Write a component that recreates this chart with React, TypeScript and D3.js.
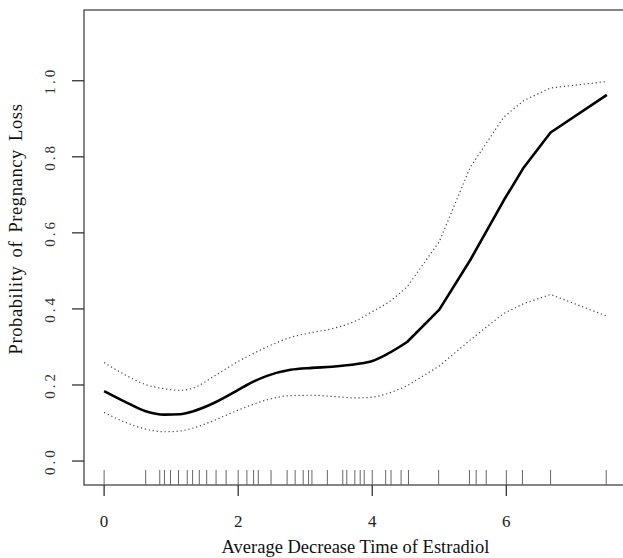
import React from "react";
import * as d3 from "d3";

// evaluation grid of the fitted curve and its confidence band
const fitX = [0, 0.3, 0.62, 0.9, 1.13, 1.33, 1.63, 2.0, 2.13, 2.43, 2.78, 3.1, 3.4, 3.77, 4.0, 4.22, 4.52, 5.0, 5.46, 5.96, 6.26, 6.66, 7.5];
const fitMean = [0.184, 0.157, 0.131, 0.122, 0.123, 0.131, 0.152, 0.187, 0.2, 0.224, 0.24, 0.245, 0.248, 0.255, 0.263, 0.281, 0.313, 0.398, 0.528, 0.685, 0.772, 0.864, 0.963];
const fitUpper = [0.259, 0.228, 0.201, 0.19, 0.186, 0.192, 0.222, 0.262, 0.274, 0.3, 0.325, 0.338, 0.348, 0.37, 0.393, 0.415, 0.458, 0.577, 0.772, 0.904, 0.948, 0.981, 0.998];
const fitLower = [0.128, 0.103, 0.084, 0.077, 0.079, 0.087, 0.106, 0.134, 0.143, 0.161, 0.172, 0.173, 0.17, 0.166, 0.168, 0.177, 0.198, 0.25, 0.318, 0.388, 0.414, 0.438, 0.381];

// observed values shown as rug
const rugX = [0, 0.62, 0.83, 0.9, 0.99, 1.11, 1.24, 1.32, 1.42, 1.53, 1.67, 1.82, 2.0, 2.13, 2.23, 2.3, 2.49, 2.73, 2.85, 2.97, 3.05, 3.1, 3.33, 3.56, 3.62, 3.74, 3.82, 3.88, 4.0, 4.2, 4.28, 4.43, 4.54, 4.99, 5.45, 5.55, 5.7, 6.0, 6.24, 6.66, 7.49];

const xTicks = [0, 2, 4, 6];
const yTicks = [0, 0.2, 0.4, 0.6, 0.8, 1.0];
const xTitle = "Average Decrease Time of Estradiol";
const yTitle = "Probability of Pregnancy Loss";

export default function App() {
  const width = 623;
  const height = 558;
  const left = 84;
  const right = 627;
  const top = 10;
  const bottom = 485;
  const font = "'Liberation Serif', 'Times New Roman', serif";

  const x = d3.scaleLinear().domain([-0.3, 7.8]).range([left, right]);
  const y = d3.scaleLinear().domain([-0.063, 1.186]).range([bottom, top]);

  // dense data on the left gives a smooth curve, sparse data on the right a polyline
  const split = fitX.indexOf(4.52);
  const pts = (vals: number[]) => vals.map((v, i) => [x(fitX[i]), y(v)] as [number, number]);
  const smooth = d3.line().curve(d3.curveMonotoneX);
  const straight = d3.line().curve(d3.curveLinear);
  const line = (vals: number[]) => {
    const p = pts(vals);
    const a = smooth(p.slice(0, split + 1)) || "";
    const b = straight(p.slice(split)) || "";
    return a + b.replace(/^M/, "L");
  };

  const fmt = d3.format(".1f");

  return (
    <svg
      width={width}
      height={height}
      style={{ position: "absolute", left: 0, top: 0, background: "#fff" }}
    >
      <rect x={left} y={top} width={right - left} height={bottom - top} fill="none" stroke="#444" strokeWidth={1.3} />

      {rugX.map((v, i) => (
        <line key={"r" + i} x1={x(v)} x2={x(v)} y1={bottom} y2={bottom - 15} stroke="#666" strokeWidth={1} />
      ))}

      {xTicks.map((t) => (
        <g key={"x" + t}>
          <line x1={x(t)} x2={x(t)} y1={bottom} y2={bottom + 11} stroke="#333" strokeWidth={1.3} />
          <text x={x(t)} y={527} textAnchor="middle" fontFamily={font} fontSize={17} fill="#222">
            {t}
          </text>
        </g>
      ))}

      {yTicks.map((t) => (
        <g key={"y" + t}>
          <line x1={left - 12} x2={left} y1={y(t)} y2={y(t)} stroke="#333" strokeWidth={1.3} />
          <text
            transform={`translate(55,${y(t)}) rotate(-90)`}
            textAnchor="middle"
            fontFamily={font}
            fontSize={15}
            letterSpacing={3}
            fill="#333"
          >
            {fmt(t)}
          </text>
        </g>
      ))}

      <path d={line(fitUpper)} fill="none" stroke="#444" strokeWidth={1.2} strokeDasharray="1.2,2.8" strokeLinejoin="round" />
      <path d={line(fitLower)} fill="none" stroke="#444" strokeWidth={1.2} strokeDasharray="1.2,2.8" strokeLinejoin="round" />
      <path d={line(fitMean)} fill="none" stroke="#000" strokeWidth={2.6} strokeLinejoin="round" />

      <text x={(left + right) / 2} y={553} textAnchor="middle" fontFamily={font} fontSize={18.5} fill="#111">
        {xTitle}
      </text>
      <text
        transform={`translate(22,${229}) rotate(-90)`}
        textAnchor="middle"
        fontFamily={font}
        fontSize={18.5}
        letterSpacing={0.6}
        wordSpacing={3}
        fill="#111"
      >
        {yTitle}
      </text>
    </svg>
  );
}
